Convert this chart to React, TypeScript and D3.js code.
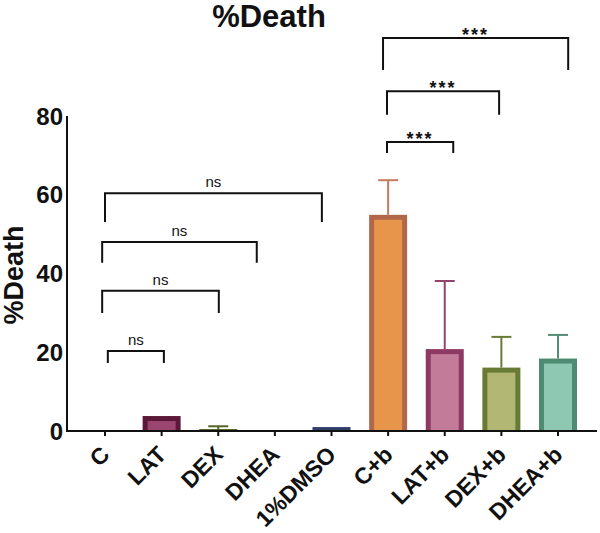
import React from "react";
import * as d3 from "d3";

const categories = ["C", "LAT", "DEX", "DHEA", "1%DMSO", "C+b", "LAT+b", "DEX+b", "DHEA+b"];
const means = [0, 3.8, 0.5, 0, 1.0, 54.9, 20.8, 16.1, 18.4];
const sds = [0, 0, 0.7, 0, 0, 8.8, 17.3, 7.8, 6.0];
const strokeColors = ["#333", "#5b1838", "#55652b", "#333", "#2f3e6a", "#b3674a", "#8d3962", "#687b35", "#4f8a72"];
const fillColors = ["#fff", "#9b4670", "#7d8a45", "#fff", "#3a4a7a", "#e8954c", "#c27b99", "#b3b774", "#8ec8b3"];
const errColors = ["#333", "#5b1838", "#55652b", "#333", "#2f3e6a", "#c47a5e", "#94426a", "#687b35", "#558d76"];
const yTicks = [0, 20, 40, 60, 80];

// brackets: fractional category positions, y levels in data units
const bracketFrom = [4.91, 4.98, 4.98, 0, -0.05, -0.05, 0.05];
const bracketTo = [8.18, 6.96, 6.15, 3.83, 2.68, 2.01, 1.04];
const bracketTop = [99.8, 86.3, 73.4, 60.4, 48.0, 35.6, 20.3];
const bracketLeg = [91.7, 80.3, 70.6, 53.1, 42.7, 30.0, 17.3];
const bracketLabel = ["***", "***", "***", "ns", "ns", "ns", "ns"];

export default function App() {
  const W = 600, H = 533;
  const axisX0 = 67, axisX1 = 597, baseY = 431;
  const x = d3.scaleLinear().domain([0, 8]).range([105, 558]);
  const y = d3.scaleLinear().domain([0, 80]).range([baseY, 116]);
  const barW = 38;
  const sw = 5;
  const font = "'Liberation Sans', Arial, Helvetica, sans-serif";

  return (
    <svg width={W} height={H} style={{ position: "absolute", left: 0, top: 0, background: "#fff" }} fontFamily={font}>
      <rect width={W} height={H} fill="#fff" />
      <text x={269} y={27} textAnchor="middle" fontSize={31} fontWeight="bold" fill="#111">%Death</text>

      {/* bars */}
      {categories.map((c, i) => {
        const v = means[i];
        if (v <= 0) return null;
        const cx = x(i);
        const top = y(v);
        const h = baseY - top;
        return (
          <g key={c}>
            <rect x={cx - barW / 2} y={top} width={barW} height={h} fill={strokeColors[i]} />
            {h > sw * 2 && (
              <rect x={cx - barW / 2 + sw} y={top + sw} width={barW - 2 * sw} height={h - sw} fill={fillColors[i]} />
            )}
          </g>
        );
      })}

      {/* error bars */}
      {categories.map((c, i) => {
        if (sds[i] <= 0) return null;
        const cx = x(i);
        const yt = y(means[i] + sds[i]);
        const yb = y(means[i]);
        return (
          <g key={"e" + c} stroke={errColors[i]} strokeWidth={2}>
            <line x1={cx} x2={cx} y1={yb} y2={yt} />
            <line x1={cx - 10} x2={cx + 10} y1={yt} y2={yt} />
          </g>
        );
      })}

      {/* axes */}
      <line x1={axisX0} x2={axisX0} y1={y(80)} y2={baseY + 1} stroke="#111" strokeWidth={2} />
      <line x1={axisX0} x2={axisX1} y1={baseY} y2={baseY} stroke="#111" strokeWidth={2} />
      {yTicks.map((t) => (
        <text key={t} x={63} y={y(t)} dy="0.36em" textAnchor="end" fontSize={24} fontWeight="bold" fill="#111">{t}</text>
      ))}
      {categories.map((c, i) => (
        <g key={"t" + c}>
          <line x1={x(i)} x2={x(i)} y1={baseY} y2={baseY + 5} stroke="#111" strokeWidth={2} />
          <text
            transform={`translate(${x(i) + 6},${baseY + 25}) rotate(-45)`}
            textAnchor="end"
            fontSize={23}
            fontWeight="bold"
            fill="#111"
          >{c}</text>
        </g>
      ))}
      <text transform={`translate(23,275) rotate(-90)`} textAnchor="middle" fontSize={27} fontWeight="bold" fill="#111">%Death</text>

      {/* significance brackets */}
      {bracketLabel.map((lab, k) => {
        const x1 = x(bracketFrom[k]);
        const x2 = x(bracketTo[k]);
        const yt = y(bracketTop[k]);
        const yl = y(bracketLeg[k]);
        const stars = lab === "***";
        return (
          <g key={"b" + k}>
            <path d={`M${x1},${yl}V${yt}H${x2}V${yl}`} fill="none" stroke="#111" strokeWidth={2} />
            <text
              x={(x1 + x2) / 2}
              y={stars ? yt + 3 : yt - 6}
              textAnchor="middle"
              fontSize={stars ? 18 : 15}
              fontWeight={stars ? "bold" : "normal"}
              letterSpacing={stars ? 2 : 0}
              fill="#111"
            >{lab}</text>
          </g>
        );
      })}
    </svg>
  );
}
